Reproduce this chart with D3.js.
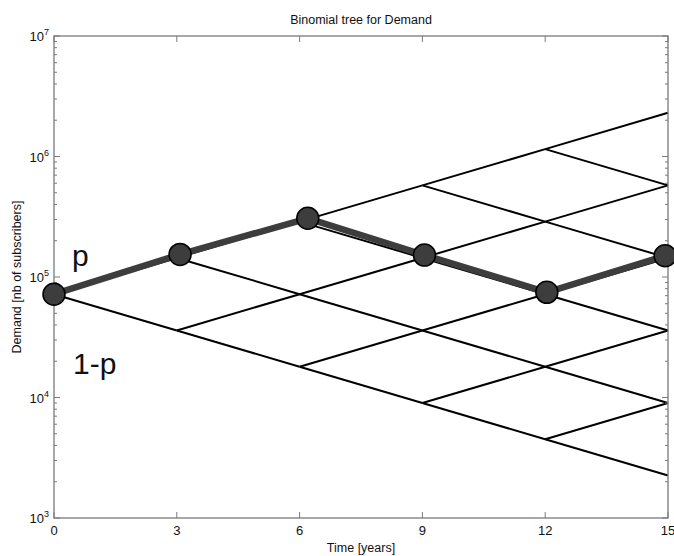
<!DOCTYPE html>
<html>
<head>
<meta charset="utf-8">
<script src="https://cdn.jsdelivr.net/npm/d3@7"></script>
<style>
  body { margin: 0; background: #fff; }
  svg text { font-family: "Liberation Sans", Arial, sans-serif; fill: #111; }
</style>
</head>
<body>
<svg id="chart" width="674" height="556"></svg>
<script>
// tree parameters
var startDemand = 72000;
var upFactor = 2.0;
var downFactor = 0.5;
var stepYears = 3;
var nbSteps = 5;

// highlighted path (circles + thick line)
var pathYears = [0, 3.08, 6.2, 9.05, 12.04, 14.93];
var pathDemand = [72000, 154000, 307000, 152000, 74600, 150000];

var xTicks = [0, 3, 6, 9, 12, 15];
var yDecades = [3, 4, 5, 6, 7];

var svg = d3.select("#chart");
var margin = {top: 36, right: 6, bottom: 38, left: 54};
var width = +svg.attr("width") - margin.left - margin.right;
var height = +svg.attr("height") - margin.top - margin.bottom;

var x = d3.scaleLinear().domain([0, 15]).range([0, width]);
var y = d3.scaleLog().domain([1e3, 1e7]).range([height, 0]);

var g = svg.append("g")
  .attr("transform", "translate(" + margin.left + "," + margin.top + ")");

// build the tree edges
var edges = [];
for (var n = 0; n < nbSteps; n++) {
  for (var k = 0; k <= n; k++) {
    var v = startDemand * Math.pow(upFactor, k) * Math.pow(downFactor, n - k);
    edges.push([n * stepYears, v, (n + 1) * stepYears, v * upFactor]);
    edges.push([n * stepYears, v, (n + 1) * stepYears, v * downFactor]);
  }
}

g.selectAll(".edge")
  .data(edges)
  .enter().append("line")
    .attr("class", "edge")
    .attr("x1", function(d) { return x(d[0]); })
    .attr("y1", function(d) { return y(d[1]); })
    .attr("x2", function(d) { return x(d[2]); })
    .attr("y2", function(d) { return y(d[3]); })
    .attr("stroke", "#000")
    .attr("stroke-width", 2);

// axis box
var axisColor = "#7a7a7a";
g.append("rect")
  .attr("width", width).attr("height", height)
  .attr("fill", "none").attr("stroke", axisColor).attr("stroke-width", 1.3);

// x ticks, bottom and top, inward
xTicks.forEach(function(t) {
  g.append("line").attr("x1", x(t)).attr("x2", x(t))
    .attr("y1", height).attr("y2", height - 6)
    .attr("stroke", axisColor).attr("stroke-width", 1);
  g.append("line").attr("x1", x(t)).attr("x2", x(t))
    .attr("y1", 0).attr("y2", 6)
    .attr("stroke", axisColor).attr("stroke-width", 1);
  g.append("text")
    .attr("x", x(t)).attr("y", height + 17)
    .attr("text-anchor", "middle")
    .style("font-size", "13px")
    .text(t);
});

// y ticks (log, with minor ticks), left and right
yDecades.forEach(function(e) {
  var base = Math.pow(10, e);
  [0, width].forEach(function(xp) {
    var dir = xp === 0 ? 1 : -1;
    g.append("line").attr("x1", xp).attr("x2", xp + dir * 6)
      .attr("y1", y(base)).attr("y2", y(base))
      .attr("stroke", axisColor).attr("stroke-width", 1);
    if (e < 7) {
      for (var m = 2; m <= 9; m++) {
        g.append("line").attr("x1", xp).attr("x2", xp + dir * 3)
          .attr("y1", y(base * m)).attr("y2", y(base * m))
          .attr("stroke", axisColor).attr("stroke-width", 1);
      }
    }
  });
  var lab = g.append("text")
    .attr("x", -5).attr("y", y(base) + 5)
    .attr("text-anchor", "end")
    .style("font-size", "13px");
  lab.append("tspan").text("10");
  lab.append("tspan").attr("dy", -6).style("font-size", "9px").text(e);
});

// highlighted path
var line = d3.line()
  .x(function(d, i) { return x(pathYears[i]); })
  .y(function(d) { return y(d); });

g.append("path")
  .attr("d", line(pathDemand))
  .attr("fill", "none")
  .attr("stroke", "#3d3d3d")
  .attr("stroke-width", 6.5)
  .attr("stroke-linejoin", "round");

g.selectAll(".node")
  .data(pathDemand)
  .enter().append("circle")
    .attr("class", "node")
    .attr("cx", function(d, i) { return x(pathYears[i]); })
    .attr("cy", function(d) { return y(d); })
    .attr("r", 11)
    .attr("fill", "#3d3d3d")
    .attr("stroke", "#000")
    .attr("stroke-width", 1.5);

// annotations
svg.append("text").attr("x", 72).attr("y", 266)
  .style("font-size", "30px").text("p");
svg.append("text").attr("x", 73).attr("y", 374)
  .style("font-size", "30px").text("1-p");

// title and axis labels
svg.append("text")
  .attr("x", margin.left + width / 2).attr("y", 24)
  .attr("text-anchor", "middle")
  .style("font-size", "12.5px")
  .text("Binomial tree for Demand");

svg.append("text")
  .attr("x", margin.left + width / 2).attr("y", 552)
  .attr("text-anchor", "middle")
  .style("font-size", "12.5px")
  .text("Time [years]");

svg.append("text")
  .attr("transform", "translate(21," + (margin.top + height / 2) + ") rotate(-90)")
  .attr("text-anchor", "middle")
  .style("font-size", "12.5px")
  .text("Demand [nb of subscribers]");
</script>
</body>
</html>
